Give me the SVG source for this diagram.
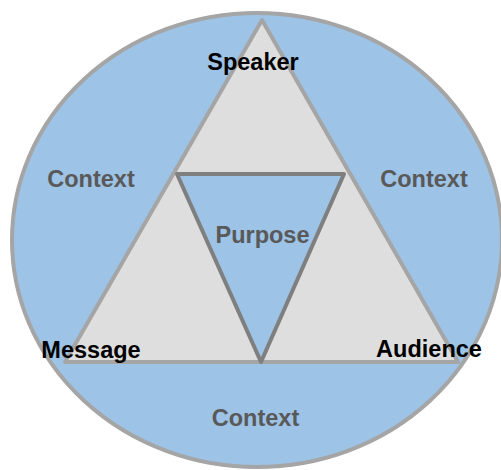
<svg xmlns="http://www.w3.org/2000/svg" width="501" height="470" viewBox="0 0 501 470">
<style>
.lbl{font-family:"Liberation Sans",Arial,sans-serif;font-weight:bold;font-size:23.5px;text-anchor:middle}
.dark{fill:#000}
.grey{fill:#595959}
</style>
<rect width="501" height="470" fill="#fff"/>
<g id="context-circle">
<ellipse cx="257" cy="240" rx="245" ry="227" fill="#9dc3e6" stroke="#a5a5a5" stroke-width="4"/>
<text class="lbl grey" x="91" y="187">Context</text>
<text class="lbl grey" x="424" y="187">Context</text>
<text class="lbl grey" x="255.5" y="426">Context</text>
</g>
<g id="outer-triangle">
<polygon points="262,20 65,362 458,362" fill="#dedede" stroke="#a5a5a5" stroke-width="4" stroke-linejoin="round"/>
</g>
<g id="purpose">
<polygon points="177,174 344,174 261,362" fill="#9dc3e6" stroke="#7f7f7f" stroke-width="4" stroke-linejoin="round"/>
<text class="lbl grey" x="262.5" y="243">Purpose</text>
</g>
<g id="speaker"><text class="lbl dark" x="253" y="70">Speaker</text></g>
<g id="message"><text class="lbl dark" x="91" y="358">Message</text></g>
<g id="audience"><text class="lbl dark" x="429" y="357">Audience</text></g>
<g id="connectors"></g>
</svg>
